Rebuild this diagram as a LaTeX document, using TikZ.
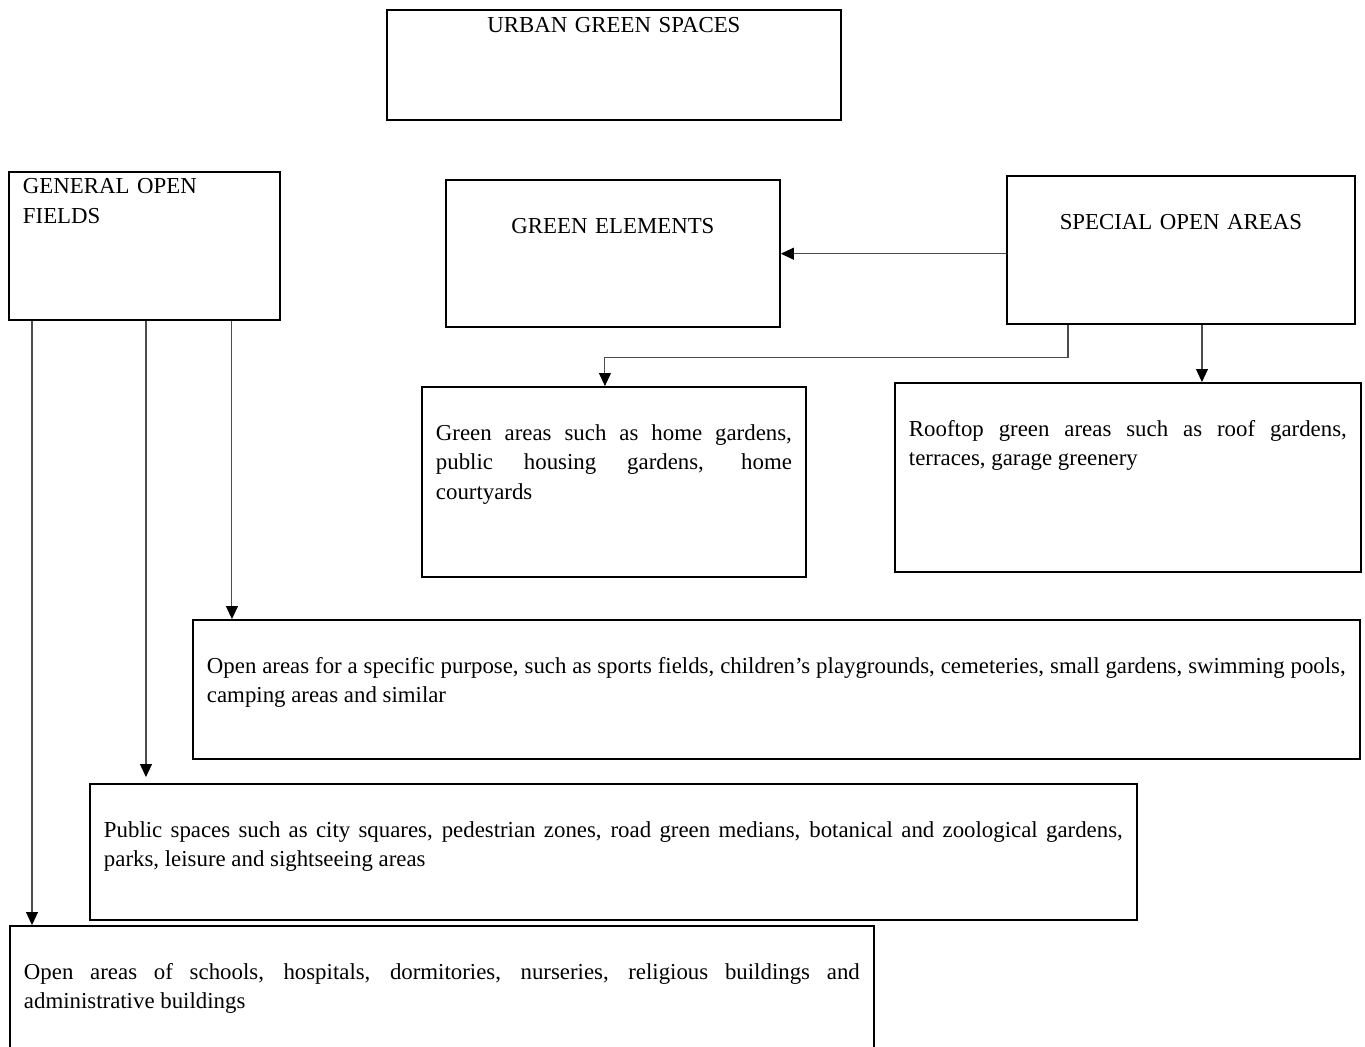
\documentclass[tikz,border=0pt]{standalone}
\usepackage{fontspec}
\setmainfont{Liberation Serif}
\usepackage{tikz}
\usetikzlibrary{arrows.meta}

\begin{document}
\begin{tikzpicture}[x=0.02cm,y=-0.02cm,every node/.style={font=\fontsize{13pt}{16.8pt}\selectfont}]

\tikzset{box/.style={draw, line width=1.1pt, anchor=north west, inner xsep=0.28cm, inner ysep=0pt},
%thin grey connectors with a black head
conn/.style={draw=black!70, line width=0.6pt, -{Triangle[length=0.26cm,width=0.24cm,color=black]}}}

\newcommand{\firstline}{1.07cm}

\clip (0,0) rectangle (1365,1046);

% top row
\node [box, align=center, text width=8.52cm, text height=0.46cm, text depth=1.74cm] (urban) at (386,9) {URBAN GREEN SPACES};

\node [box, align=left, text width=4.86cm, text height=0.44cm, text depth=2.52cm] (general) at (8,171) {GENERAL OPEN\\FIELDS};
\node [box, align=center, text width=6.12cm, text height=\firstline, text depth=1.88cm] (greenel) at (445,179) {GREEN ELEMENTS};
\node [box, align=center, text width=6.40cm, text height=\firstline, text depth=1.90cm] (special) at (1006,175) {SPECIAL OPEN AREAS};

% lower boxes
\node [box, align=justify, text width=7.12cm, text height=\firstline, text depth=2.74cm] (greenareas) at (421,386) {Green areas such as home gardens,\linebreak public housing gardens, home\linebreak courtyards};
\node [box, align=justify, text width=8.76cm, text height=\firstline, text depth=2.72cm] (rooftop) at (894,382) {Rooftop green areas such as roof gardens,\linebreak terraces, garage greenery};

\node [box, align=justify, text width=22.78cm, text height=\firstline, text depth=1.72cm] (specific) at (192,619) {Open areas for a specific purpose, such as sports fields, children's playgrounds, cemeteries, small gardens, swimming pools,\linebreak camping areas and similar};
\node [box, align=justify, text width=20.38cm, text height=\firstline, text depth=1.66cm] (public) at (89,783) {Public spaces such as city squares, pedestrian zones, road green medians, botanical and zoological gardens,\linebreak parks, leisure and sightseeing areas};
\node [box, align=justify, text width=16.72cm, text height=\firstline, text depth=1.90cm] (schools) at (9,925) {Open areas of schools, hospitals, dormitories, nurseries, religious buildings and\linebreak administrative buildings};

% connectors
\draw [conn] (special.west |- greenel.east) -- (greenel.east);

\coordinate (s1) at ([xshift=1.24cm]special.south west);
\coordinate (s2) at ([xshift=3.92cm]special.south west);
\draw [conn] (s1) -- ++(0,32) -| ([xshift=-0.18cm]greenareas.north);
\draw [conn] (s2) -- (s2 |- rooftop.north);

\coordinate (g1) at ([xshift=0.48cm]general.south west);
\coordinate (g2) at ([xshift=2.76cm]general.south west);
\coordinate (g3) at ([xshift=4.48cm]general.south west);
\draw [conn] (g1) -- (g1 |- schools.north);
\draw [conn, shorten >=0.12cm] (g2) -- (g2 |- public.north);
\draw [conn] (g3) -- (g3 |- specific.north);

\end{tikzpicture}
\end{document}
